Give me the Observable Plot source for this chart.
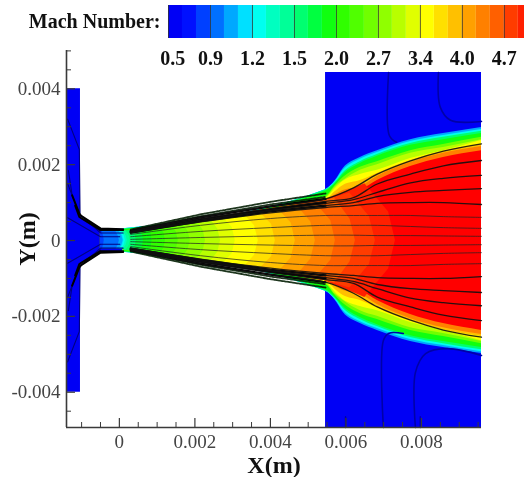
<!DOCTYPE html>
<html>
<head>
<meta charset="utf-8">
<script src="https://cdn.jsdelivr.net/npm/d3@7"></script>
<script src="https://cdn.jsdelivr.net/npm/@observablehq/plot@0.6"></script>
<style>
html,body{margin:0;padding:0;background:#fff;overflow:hidden;width:524px;height:477px}
#main,#bar{position:absolute;left:0;top:0}
svg{filter:blur(0.65px);display:block}
</style>
</head>
<body>
<div id="main"></div>
<div id="bar"></div>
<script>
// Mach levels and their colours, as on the colour bar
const machLevels = [0.5,0.63,0.77,0.9,1.0,1.1,1.2,1.3,1.4,1.5,1.67,1.83,2.0,2.23,2.47,2.7,2.93,3.17,3.4,3.6,3.8,4.0,4.23,4.47,4.7,4.9,5.1];
const machColors = ["#0000f5","#0010ff","#0040ff","#0070ff","#00a8ff","#00e0ff","#00fff0","#00ffc0","#00ff98","#00ff70","#00ff40","#10ff10","#30ff00","#50ff00","#70ff00","#90ff00","#b8ff00","#e0ff00","#ffff00","#ffe000","#ffc000","#ffa000","#ff8000","#ff6000","#ff3c00","#ff2000","#ff0000"];
const barLabels = ["0.5","0.9","1.2","1.5","2.0","2.7","3.4","4.0","4.7"];
const barLabelSlots = [0.1,1,2,3,4,5,6,7,8];
const barCellEdges = [0,1,2,3,4,5,6,7,8];

// axes
const xMajor = [0,0.002,0.004,0.006,0.008];
const xMajorLabels = ["0","0.002","0.004","0.006","0.008"];
const xMinor = [-0.001,-0.0005,0.0005,0.001,0.0015,0.0025,0.003,0.0035,0.0045,0.005,0.0055,0.0065,0.007,0.0075,0.0085,0.009,0.0095];
const yMajor = [-0.004,-0.002,0,0.002,0.004];
const yMajorLabels = ["-0.004","-0.002","0","0.002","0.004"];
const yMinor = [-0.0045,-0.0035,-0.003,-0.0025,-0.0015,-0.001,-0.0005,0.0005,0.001,0.0015,0.0025,0.003,0.0035,0.0045,0.005];

// ambient block right of the nozzle exit
const ambientX = [0.00546,0.00959];
const ambientTop = 0.00443, ambientBottom = -0.00493;

// inlet and converging section: half height per x (Mach 0.5)
const chamberX = [-0.0014,-0.00103,-0.00103,-0.00099,-0.0005,0.0001];
const chamberH = [0.004,0.004,0.00065,0.0006,0.00032,0.0003];

// outer contours of nozzle wall layer and jet plume: half height at ringX
const ringX = [0.0001,0.00546,0.00572,0.00593,0.00638,0.00683,0.00771,0.00858,0.00959];
const ringMach = [1.0,1.2,1.5,1.83,2.47,2.93,3.4,3.8,4.23,5.1];
const ringH = [
 [0.00031,0.00134,0.00158,0.0019,0.00219,0.00237,0.00266,0.00282,0.00298],
 [0.00031,0.00134,0.00156,0.00185,0.00214,0.00232,0.00261,0.00277,0.00293],
 [0.0003,0.00133,0.00153,0.00179,0.00208,0.00227,0.00256,0.00272,0.00288],
 [0.00029,0.0013,0.0015,0.00174,0.00203,0.00222,0.00251,0.00266,0.00282],
 [0.00026,0.00116,0.00145,0.00166,0.00193,0.00208,0.00237,0.00253,0.00272],
 [0.00025,0.00113,0.00142,0.00158,0.00185,0.002,0.0023,0.00245,0.00266],
 [0.00025,0.00111,0.00137,0.00156,0.00174,0.00185,0.00216,0.00237,0.00264],
 [0.00024,0.00106,0.00129,0.00145,0.00158,0.00177,0.00211,0.00235,0.00253],
 [0.00024,0.00106,0.00121,0.00132,0.00142,0.00169,0.00206,0.0023,0.00248],
 [0.00024,0.00106,0.00116,0.00121,0.00132,0.00158,0.00195,0.00219,0.00237]
];

// low-Mach fronts inside the jet, bulging downstream on the axis
const frontStartX = [-0.0005,0.0001,0.00546];
const frontStartH = [0.00024,0.00024,0.00106];
const frontMach  = [4.9,4.7,4.47,4.23,4.0,3.8,3.6,3.4,3.17,2.93,2.7,2.47,2.23,2.0,1.83,1.67,1.5,1.4,1.3,1.2,1.1,1.0,0.9,0.77];
const frontEdgeX = [0.0065,0.0061,0.0057,0.0052,0.00468,0.00418,0.00368,0.00328,0.00272,0.00239,0.00204,0.00166,0.00136,0.00105,0.00072,0.0005,0.00033,0.00017,0.0001,0.00006,0.00003,-0.00001,-0.00009,-0.00045];
const frontEdgeH = [0.0015,0.00125,0.00112,0.00098,0.00094,0.00086,0.00078,0.00072,0.00064,0.00059,0.00053,0.00048,0.00044,0.00039,0.00034,0.0003,0.00028,0.00026,0.00024,0.00024,0.00024,0.00024,0.00024,0.00024];
const frontMidX  = [0.00713,0.00662,0.00611,0.0056,0.00507,0.00455,0.00403,0.00358,0.00299,0.00261,0.00222,0.00182,0.00151,0.00118,0.00084,0.00061,0.00042,0.00026,0.00018,0.00013,0.00009,0.00007,-0.00003,-0.00042];
const frontMidH  = [0.00075,0.00063,0.00056,0.00052,0.00049,0.00046,0.00043,0.00039,0.00034,0.0003,0.00027,0.00024,0.00022,0.0002,0.00018,0.00016,0.00014,0.00013,0.00012,0.00012,0.00012,0.00012,0.00012,0.00012];
const frontTipX  = [0.00731,0.00678,0.00625,0.00572,0.00519,0.00466,0.00413,0.00368,0.00307,0.00268,0.00228,0.00188,0.00156,0.00122,0.00087,0.00064,0.00045,0.00029,0.00021,0.00016,0.00012,0.0001,0,-0.0004];

// streamlines in the jet: half height at streamX
const streamX = [0.0003,0.00215,0.004,0.00546,0.0062,0.00683,0.00771,0.00858,0.00959];
const wallLines = [
 [0.00025,0.00061,0.0009,0.0011,0.00139,0.00175,0.0021,0.00236,0.00255],
 [0.00024,0.00057,0.00084,0.00103,0.00113,0.00149,0.00175,0.00197,0.00211],
 [0.00022,0.00054,0.0008,0.00098,0.00108,0.00127,0.00152,0.00164,0.00172],
 [0.00021,0.00051,0.00077,0.00092,0.001,0.00116,0.00127,0.00132,0.00137],
 [0.0002,0.00049,0.00073,0.00087,0.00092,0.00098,0.001,0.001,0.00095]
];
const coreLines = [
 [0.00016,0.0004,0.00058,0.00066,0.00066,0.00066,0.00066,0.00063,0.00061],
 [0.0001,0.00024,0.00034,0.0004,0.0004,0.0004,0.00037,0.00034,0.00032],
 [0.00003,0.00008,0.00012,0.00014,0.00014,0.00013,0.00013,0.00012,0.00011]
];
const rimX = [0.0003,0.00215,0.004,0.00546];
const rimLines = [
 [0.00027,0.00064,0.00095,0.00115],
 [0.00029,0.00069,0.00102,0.00124]
];
const nozzleWall = [
 [0.00025,0.00061,0.0009,0.0011],
 [0.00023,0.00056,0.00082,0.001],
 [0.00021,0.00051,0.00077,0.00092]
];

// lines in the inlet
const inletBlack = [
 {x:[-0.00125,-0.00106,-0.00101,-0.0005,0.0001],h:[0.00119,0.00071,0.00065,0.00032,0.0003]},
 {x:[-0.00117,-0.00106,-0.0005,0.0001],h:[0.00092,0.00062,0.00028,0.00028]}
];
const inletNavy = [
 {x:[-0.00137,-0.00106,-0.00104,-0.0005],h:[0.0032,0.0024,0.0006,0.00025]},
 {x:[-0.00135,-0.00125],h:[0.00185,0.00119]},
 {x:[-0.00137,-0.00106,-0.0005,0.0001],h:[0.0015,0.0007,0.0002,0.0002]},
 {x:[-0.00137,-0.0005,0.00001],h:[0.0006,0.0001,0.0001]}
];

// contour lines in the ambient block
const ambientLines = [
 {x:[0.00713,0.00715,0.00734],y:[0.00443,0.00277,0.00259]},
 {x:[0.00845,0.0085,0.00877,0.00959],y:[0.00443,0.00351,0.00317,0.00314]},
 {x:[0.00699,0.00699,0.00713,0.00752],y:[-0.00493,-0.00264,-0.00245,-0.00245]},
 {x:[0.00784,0.00784,0.00811,0.00869,0.00959],y:[-0.00493,-0.00348,-0.00298,-0.00285,-0.00303]},
 {x:[0.00599,0.00599],y:[-0.00493,-0.00465]},
 {x:[0.00797,0.00797],y:[-0.00493,-0.00465]}
];

// tables built from the lists above
const ambientRows = ambientX.map(x => ({x, y1: ambientBottom, y2: ambientTop}));
const chamberRows = chamberX.map((x,i) => ({x, h: chamberH[i]}));
const ringRows = ringMach.flatMap((m,k) => ringX.map((x,i) => ({x, h: ringH[k][i], m})));
const frontRows = frontMach.flatMap((m,k) => {
  const pts = frontStartX.map((x,i) => ({x, h: frontStartH[i], m})).filter(p => p.x < frontEdgeX[k]);
  pts.push({x: frontEdgeX[k], h: frontEdgeH[k], m});
  pts.push({x: frontMidX[k], h: frontMidH[k], m});
  pts.push({x: frontTipX[k], h: 0, m});
  return pts;
});
const mirror = (rows) => rows.flatMap(r => [{...r, y: r.h, id: r.id + "u"}, {...r, y: -r.h, id: r.id + "d"}]);
const stream = (xs, lines, tag) => mirror(lines.flatMap((hs,k) => xs.map((x,i) => ({x, h: hs[i], id: tag + k}))));
const inlet = (lines, tag) => mirror(lines.flatMap((l,k) => l.x.map((x,i) => ({x, h: l.h[i], id: tag + k}))));
const ambientLineRows = ambientLines.flatMap((l,k) => l.x.map((x,i) => ({x, y: l.y[i], id: k})));
const labelOf = (values, labels) => (v) => labels[values.indexOf(v)];

const serif = "'Liberation Serif', serif";
const colorScale = {type: "ordinal", domain: machLevels, range: machColors};
const tickColor = "#3a3a3a";

const main = Plot.plot({
  width: 524, height: 477,
  marginLeft: 66, marginRight: 43, marginTop: 50, marginBottom: 50,
  style: {fontFamily: serif, background: "transparent"},
  x: {domain: [-0.0014, 0.00959], axis: null},
  y: {domain: [-0.00493, 0.00501], axis: null},
  color: colorScale,
  marks: [
    Plot.areaY(ambientRows, {x: "x", y1: "y1", y2: "y2", fill: machColors[0]}),
    Plot.areaY(chamberRows, {x: "x", y1: d => -d.h, y2: d => d.h, fill: machColors[0]}),
    Plot.areaY(ringRows, {x: "x", y1: d => -d.h, y2: d => d.h, z: "m", fill: "m", curve: "monotone-x"}),
    Plot.areaY(frontRows, {x: "x", y1: d => -d.h, y2: d => d.h, z: "m", fill: "m"}),
    Plot.line(ambientLineRows, {x: "x", y: "y", z: "id", stroke: "#0000a8", strokeWidth: 1.6, curve: "catmull-rom"}),
    Plot.line(inlet(inletNavy, "n"), {x: "x", y: "y", z: "id", stroke: "#000080", strokeWidth: 1.1}),
    Plot.line(inlet(inletBlack, "b"), {x: "x", y: "y", z: "id", stroke: "#000", strokeWidth: 2}),
    Plot.line(stream(rimX, rimLines, "r"), {x: "x", y: "y", z: "id", stroke: "#062006", strokeWidth: 1.8, strokeDasharray: "2 1", strokeOpacity: 0.9}),
    Plot.line(stream(rimX, nozzleWall, "k"), {x: "x", y: "y", z: "id", stroke: "#000", strokeWidth: 2.2}),
    Plot.line(stream(streamX, wallLines, "w"), {x: "x", y: "y", z: "id", stroke: "#111", strokeWidth: 1.3, strokeOpacity: 0.9, curve: "catmull-rom"}),
    Plot.line(stream(streamX, coreLines, "c"), {x: "x", y: "y", z: "id", stroke: "#222", strokeWidth: 0.9, strokeOpacity: 0.8, curve: "catmull-rom"}),
    Plot.ruleX([-0.0014], {stroke: tickColor, strokeWidth: 1.6}),
    Plot.ruleY([-0.00493], {stroke: tickColor, strokeWidth: 1.6}),
    Plot.axisX(xMajor, {anchor: "bottom", tickSize: -9, fill: "none", label: null, stroke: tickColor, strokeWidth: 1.2}),
    Plot.axisX(xMinor, {anchor: "bottom", tickSize: -5, fill: "none", label: null, stroke: tickColor}),
    Plot.axisY(yMajor, {anchor: "left", tickSize: -9, fill: "none", label: null, stroke: tickColor, strokeWidth: 1.2}),
    Plot.axisY(yMinor, {anchor: "left", tickSize: -5, fill: "none", label: null, stroke: tickColor}),
    Plot.axisX(xMajor, {anchor: "bottom", tickSize: 0, tickPadding: 7, label: null, fontSize: 19, fill: "#444", tickFormat: labelOf(xMajor, xMajorLabels)}),
    Plot.axisY(yMajor, {anchor: "left", tickSize: 0, tickPadding: 6, label: null, fontSize: 19, fill: "#444", tickFormat: labelOf(yMajor, yMajorLabels)}),
    Plot.text(["X(m)"], {frameAnchor: "bottom", dy: 38, fontSize: 24, fontWeight: "bold", fill: "#111", lineAnchor: "middle"}),
    Plot.text(["Y(m)"], {frameAnchor: "left", dx: -39, rotate: -90, textAnchor: "middle", fontSize: 24, fontWeight: "bold", fill: "#111"})
  ]
});
document.getElementById("main").append(main);

const stripes = machLevels.map((m,i) => ({m, x1: i/3, x2: (i+1)/3}));
const bar = Plot.plot({
  width: 524, height: 72,
  marginLeft: 168, marginRight: 0, marginTop: 5, marginBottom: 34,
  style: {fontFamily: serif, background: "transparent"},
  x: {domain: [0, 8.48], axis: null},
  y: {domain: [0, 1], axis: null},
  color: colorScale,
  marks: [
    Plot.rectY(stripes, {x1: "x1", x2: "x2", y1: 0, y2: 1, fill: "m", clip: true}),
    Plot.ruleX(barCellEdges, {stroke: "#333", strokeWidth: 1, strokeOpacity: 0.8}),
    Plot.text(barLabels, {x: (d,i) => barLabelSlots[i], frameAnchor: "bottom", dy: 20, lineAnchor: "middle", fontSize: 20, fontWeight: "bold", fill: "#111"}),
    Plot.text(["Mach Number:"], {frameAnchor: "left", dx: -8, textAnchor: "end", fontSize: 20, fontWeight: "bold", fill: "#111"})
  ]
});
document.getElementById("bar").append(bar);
</script>
</body>
</html>
